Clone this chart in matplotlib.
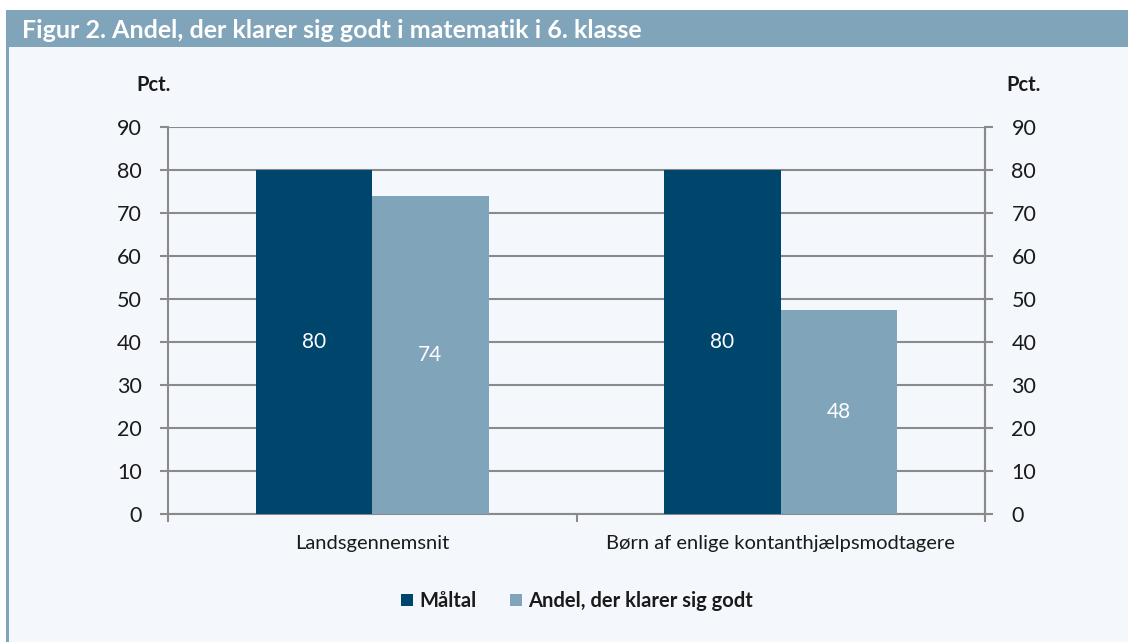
import matplotlib
matplotlib.use("Agg")
import matplotlib.pyplot as plt
from matplotlib.patches import Rectangle
import numpy as np

categories = ["Landsgennemsnit", "Børn af enlige kontanthjælpsmodtagere"]
series_names = ["Måltal", "Andel, der klarer sig godt"]
maaltal = [80, 80]
andel = [74, 47.5]
andel_labels = ["74", "48"]
maaltal_labels = ["80", "80"]
yticks = [0, 10, 20, 30, 40, 50, 60, 70, 80, 90]
title = "Figur 2. Andel, der klarer sig godt i matematik i 6. klasse"

dark = "#00466C"
light = "#80A4B9"
bg = "#F4F8FC"
grid_c = "#8A8A8A"
txt_c = "#1A1A1A"
font = "Lato"

W, H = 1128, 642
fig = plt.figure(figsize=(W / 100, H / 100), dpi=100)
fig.patch.set_facecolor("white")

# background panel
fig.add_artist(Rectangle((6 / W, 0), 1 - 6 / W, 1 - 10 / H, transform=fig.transFigure,
                         facecolor=bg, edgecolor="none", zorder=-10))
# left border strip
fig.add_artist(Rectangle((6 / W, 0), 3 / W, 1 - 10 / H, transform=fig.transFigure,
                         facecolor=light, edgecolor="none", zorder=-9))
# header bar
fig.add_artist(Rectangle((6 / W, 1 - 47 / H), 1 - 6 / W, 37 / H, transform=fig.transFigure,
                         facecolor=light, edgecolor="none", zorder=-8))
fig.text(22 / W, 1 - 30 / H, title, color="white", fontsize=18, fontweight="bold",
         family=font, va="center", ha="left")

ax = fig.add_axes([168 / W, 1 - 514 / H, (985 - 168) / W, (514 - 127) / H])
ax.set_facecolor(bg)
x = np.arange(len(categories))
bw = 0.285
b1 = ax.bar(x - bw / 2, maaltal, bw, color=dark, label=series_names[0], zorder=3)
b2 = ax.bar(x + bw / 2, andel, bw, color=light, label=series_names[1], zorder=3)

for rect, lab in zip(b1, maaltal_labels):
    ax.text(rect.get_x() + rect.get_width() / 2, rect.get_height() / 2, lab,
            ha="center", va="center", color="white", fontsize=15, family=font, zorder=4)
for rect, lab in zip(b2, andel_labels):
    ax.text(rect.get_x() + rect.get_width() / 2, rect.get_height() / 2, lab,
            ha="center", va="center", color="white", fontsize=15, family=font, zorder=4)

ax.set_ylim(0, 90)
ax.set_xlim(-0.5, len(categories) - 0.5)
ax.set_yticks(yticks)
ax.set_yticklabels([str(t) for t in yticks], family=font, fontsize=15.5, color=txt_c)
ax.yaxis.grid(True, color=grid_c, linewidth=1.5, zorder=0)
ax.set_axisbelow(True)
ax.set_xticks(np.arange(-0.5, len(categories), 1.0))
ax.set_xticklabels([])
ax.set_xticks(x, minor=True)
ax.set_xticklabels(categories, minor=True, family=font, fontsize=14.5, color=txt_c)
ax.tick_params(axis="x", which="minor", length=0, pad=15)
ax.tick_params(axis="x", which="major", length=6, width=1.5, color=grid_c, direction="out")
ax.tick_params(axis="y", length=6, width=1.5, color=grid_c, pad=13)
for s in ["left", "right", "bottom"]:
    ax.spines[s].set_color(grid_c)
    ax.spines[s].set_linewidth(1.5)
ax.spines["top"].set_visible(False)

ax2 = ax.twinx()
ax2.set_ylim(0, 90)
ax2.set_yticks(yticks)
ax2.set_yticklabels([str(t) for t in yticks], family=font, fontsize=15.5, color=txt_c)
ax2.tick_params(axis="y", length=6, width=1.5, color=grid_c, pad=13)
for s in ["left", "top", "bottom"]:
    ax2.spines[s].set_visible(False)
ax2.spines["right"].set_color(grid_c)
ax2.spines["right"].set_linewidth(1.5)

fig.text(153.5 / W, 1 - 85 / H, "Pct.", family=font, fontweight="bold", fontsize=14.5,
         color=txt_c, ha="center", va="center")
fig.text(1023.5 / W, 1 - 85 / H, "Pct.", family=font, fontweight="bold", fontsize=14.5,
         color=txt_c, ha="center", va="center")

leg = fig.legend(handles=[b1, b2], labels=series_names, loc="center",
                 bbox_to_anchor=(577 / W, 1 - 601 / H), ncol=2, frameon=False,
                 prop={"family": font, "weight": "bold", "size": 14.5},
                 handlelength=0.6, handleheight=0.6, handletextpad=0.3,
                 columnspacing=1.7)
for t in leg.get_texts():
    t.set_color(txt_c)

fig.savefig("out.png", dpi=100, facecolor=fig.get_facecolor())
